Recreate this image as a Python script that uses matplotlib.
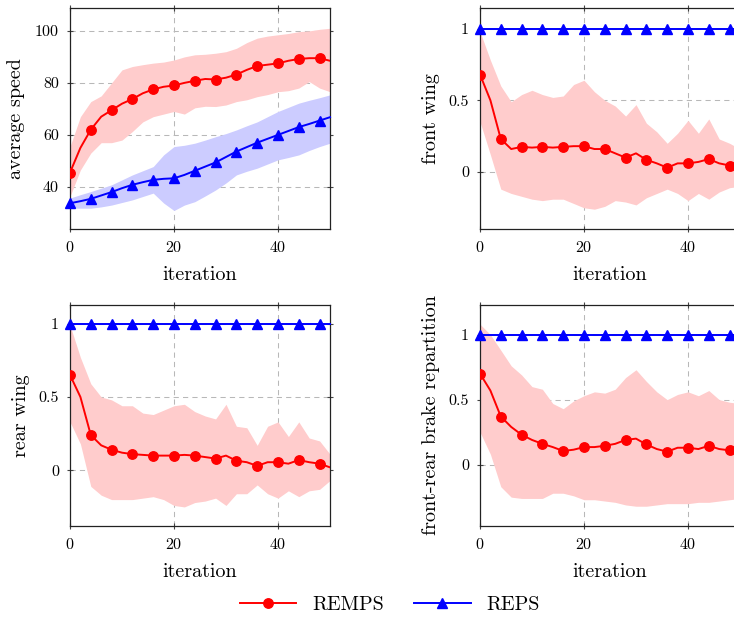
import matplotlib
matplotlib.use("Agg")
import matplotlib.pyplot as plt

plt.rcParams["font.family"] = "serif"
plt.rcParams["font.serif"] = ["cmr10", "DejaVu Serif"]
plt.rcParams["mathtext.fontset"] = "cm"
plt.rcParams["axes.formatter.use_mathtext"] = True

# iterations (every 2nd iteration, markers every 4)
iters = [0, 2, 4, 6, 8, 10, 12, 14, 16, 18, 20, 22, 24, 26, 28, 30,
         32, 34, 36, 38, 40, 42, 44, 46, 48, 50]

# average speed
remps_speed = [45.5, 55, 62, 67, 69.5, 72, 73.8, 76, 77.5, 78.5, 79, 80, 80.8,
               81.5, 81.3, 82, 83.2, 85, 86.5, 87, 87.5, 88.5, 89.2, 89.5, 89.5, 88.5]
remps_speed_hi = [55.5, 67, 72.8, 75, 80, 85, 86.3, 87, 87.6, 88, 88.8, 90, 90.8,
                  91, 91.4, 92, 93.3, 95.5, 97.2, 98, 98.5, 99, 99.7, 100, 100.6, 101]
remps_speed_lo = [36.3, 46.5, 53, 57, 57, 58, 61.3, 65, 67, 68, 69, 68, 70.4,
                  71, 70.9, 71.5, 72.8, 73.5, 74.7, 75.5, 76.6, 77, 78, 80.5, 78, 76.6]
reps_speed = [33.7, 34.5, 35.4, 36.7, 38, 39.5, 40.8, 41.8, 42.7, 43.1, 43.3, 44.6, 46.2,
              47.8, 49.4, 51.5, 53.6, 55.3, 57, 58.5, 60, 61.5, 63, 64.2, 65.5, 66.8]
reps_speed_hi = [35.7, 37, 38.2, 39.5, 40.8, 42.7, 44.6, 46.2, 47.8, 52.3, 55.5, 56, 56.8,
                 58, 59.3, 60.5, 61.9, 63.5, 65, 67, 69, 70.6, 72.2, 73.3, 74.3, 75.4]
reps_speed_lo = [31.8, 31.8, 31.8, 32.3, 33, 34, 35, 36.3, 37.6, 33.8, 30.9, 33, 34.3,
                 36.5, 38.8, 41.5, 44.6, 46, 47.2, 48.8, 50.4, 51.3, 52.3, 54, 55.5, 56.8]

# front wing
remps_fw = [0.68, 0.50, 0.23, 0.16, 0.175, 0.17, 0.175, 0.17, 0.175, 0.18, 0.18, 0.16, 0.16,
            0.13, 0.10, 0.13, 0.085, 0.06, 0.03, 0.06, 0.06, 0.07, 0.09, 0.06, 0.045, 0.05]
remps_fw_hi = [0.98, 0.78, 0.60, 0.49, 0.54, 0.57, 0.54, 0.52, 0.53, 0.61, 0.64, 0.56, 0.50,
               0.46, 0.39, 0.47, 0.34, 0.28, 0.20, 0.27, 0.36, 0.27, 0.37, 0.23, 0.20, 0.16]
remps_fw_lo = [0.35, 0.12, -0.12, -0.15, -0.17, -0.19, -0.20, -0.19, -0.19, -0.22, -0.25, -0.26, -0.24,
               -0.20, -0.21, -0.23, -0.18, -0.15, -0.12, -0.15, -0.20, -0.15, -0.19, -0.14, -0.11, -0.10]

# rear wing
remps_rw = [0.65, 0.50, 0.24, 0.17, 0.14, 0.12, 0.11, 0.105, 0.10, 0.10, 0.10, 0.105, 0.10,
            0.09, 0.08, 0.10, 0.065, 0.055, 0.03, 0.055, 0.055, 0.045, 0.07, 0.055, 0.045, 0.02]
remps_rw_hi = [0.99, 0.77, 0.59, 0.50, 0.48, 0.44, 0.44, 0.39, 0.38, 0.41, 0.44, 0.45, 0.40,
               0.37, 0.35, 0.45, 0.30, 0.29, 0.17, 0.30, 0.33, 0.23, 0.33, 0.22, 0.20, 0.11]
remps_rw_lo = [0.33, 0.18, -0.11, -0.17, -0.20, -0.20, -0.20, -0.19, -0.18, -0.20, -0.24, -0.25, -0.22,
               -0.21, -0.19, -0.24, -0.16, -0.16, -0.10, -0.16, -0.19, -0.14, -0.18, -0.14, -0.13, -0.07]

# front-rear brake repartition
remps_br = [0.70, 0.57, 0.37, 0.29, 0.23, 0.19, 0.16, 0.135, 0.105, 0.115, 0.135, 0.135, 0.145,
            0.16, 0.19, 0.20, 0.155, 0.12, 0.10, 0.13, 0.13, 0.12, 0.145, 0.12, 0.11, 0.10]
remps_br_hi = [1.08, 1.00, 0.88, 0.76, 0.69, 0.60, 0.58, 0.47, 0.43, 0.49, 0.53, 0.56, 0.55,
               0.58, 0.67, 0.73, 0.64, 0.56, 0.50, 0.54, 0.56, 0.53, 0.57, 0.50, 0.48, 0.47]
remps_br_lo = [0.25, 0.08, -0.17, -0.25, -0.26, -0.26, -0.26, -0.22, -0.22, -0.24, -0.27, -0.27, -0.28,
               -0.29, -0.31, -0.32, -0.32, -0.31, -0.30, -0.30, -0.30, -0.29, -0.29, -0.28, -0.27, -0.26]

# REPS keeps these parameters fixed at 1
reps_fixed = [1, 1, 1, 1, 1, 1, 1, 1, 1, 1, 1, 1, 1,
              1, 1, 1, 1, 1, 1, 1, 1, 1, 1, 1, 1, 1]

W, H = 734, 618
fig = plt.figure(figsize=(W / 100, H / 100), dpi=100)


def make_ax(left, top, bottom):
    return fig.add_axes([left / W, 1 - bottom / H, 260 / W, (bottom - top) / H])


panels = [
    (make_ax(70, 8, 229), "average speed", (23.8, 108.8), [40, 60, 80, 100], -0.173,
     remps_speed, remps_speed_lo, remps_speed_hi, reps_speed, reps_speed_lo, reps_speed_hi),
    (make_ax(480, 8, 229), "front wing", (-0.398, 1.144), [0, 0.5, 1], -0.154,
     remps_fw, remps_fw_lo, remps_fw_hi, reps_fixed, None, None),
    (make_ax(70, 305, 526), "rear wing", (-0.38, 1.127), [0, 0.5, 1], -0.154,
     remps_rw, remps_rw_lo, remps_rw_hi, reps_fixed, None, None),
    (make_ax(480, 305, 526), "front-rear brake repartition", (-0.472, 1.228), [0, 0.5, 1], -0.154,
     remps_br, remps_br_lo, remps_br_hi, reps_fixed, None, None),
]

for ax, label, ylim, yticks, labx, r, rlo, rhi, b, blo, bhi in panels:
    ax.fill_between(iters, rlo, rhi, color="#ffcccc", lw=0, zorder=1)
    if blo is not None:
        ax.fill_between(iters, blo, bhi, color="#ccccff", lw=0, zorder=1)
    ax.plot(iters, r, color="red", lw=1.4, marker="o", markersize=6.8,
            markevery=2, zorder=4, label="REMPS")
    ax.plot(iters, b, color="blue", lw=1.4, marker="^", markersize=6.8,
            markevery=2, zorder=4, label="REPS", clip_on=False)
    ax.set_xlim(0, 50)
    ax.set_ylim(*ylim)
    ax.set_xticks([0, 20, 40])
    ax.set_yticks(yticks)
    ax.set_yticklabels([("%g" % t) for t in yticks])
    ax.grid(True, color="#b8b8b8", linestyle=(0, (5, 4)), lw=0.75, zorder=0)
    ax.set_axisbelow(True)
    ax.tick_params(direction="inout", length=4, top=True, right=True, labelsize=11.5,
                   pad=6, color="#444444")
    ax.set_xlabel("iteration", fontsize=14.5, labelpad=8)
    ax.set_ylabel(label, fontsize=14.5)
    ax.yaxis.set_label_coords(labx, 0.5)
    for s in ax.spines.values():
        s.set_linewidth(0.9)
        s.set_color("#222222")

handles, labels = panels[0][0].get_legend_handles_labels()
fig.legend(handles, labels, loc="center", bbox_to_anchor=(390 / W, 1 - 605 / H),
           ncol=2, frameon=False, fontsize=14.5, handlelength=2.8, columnspacing=1.5)

fig.savefig("out.png", dpi=100)
